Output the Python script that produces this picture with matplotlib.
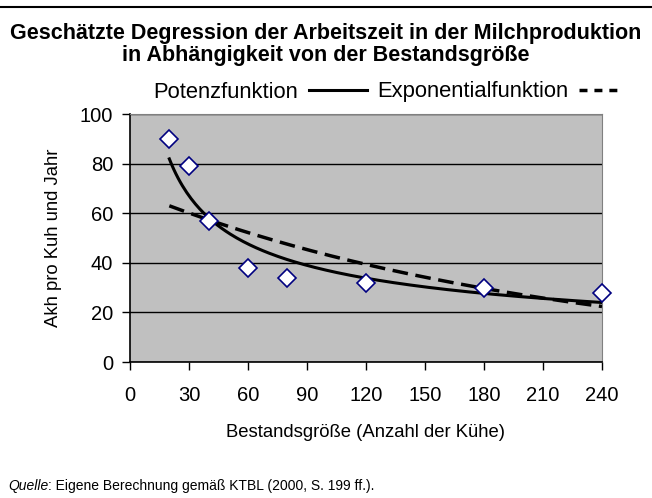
import matplotlib
matplotlib.use("Agg")
import matplotlib.pyplot as plt
from matplotlib.lines import Line2D
from matplotlib.legend_handler import HandlerLine2D
import numpy as np

"""
Degression der Arbeitszeit in der Milchproduktion: Messpunkte plus
Potenz- und Exponential-Trendlinie (Kleinste Quadrate wie in Excel).
"""

plt.rcParams["font.family"] = ["Liberation Sans", "DejaVu Sans"]

# Datenpunkte (KTBL)
herdSize = [20, 30, 40, 60, 80, 120, 180, 240]  # Anzahl Kuehe
akhPerCow = [90, 79, 57, 38, 34, 32, 30, 28]    # Akh pro Kuh und Jahr

xTicks = [0, 30, 60, 90, 120, 150, 180, 210, 240]
yTicks = [0, 20, 40, 60, 80, 100]

# Trendlinien wie in Excel: Potenz -> log/log, Exponential -> log(y) ueber x
x = np.array(herdSize, dtype=float)
y = np.array(akhPerCow, dtype=float)
bPow, lnAPow = np.polyfit(np.log(x), np.log(y), 1)
bExp, lnAExp = np.polyfit(x, np.log(y), 1)
xFit = np.linspace(x.min(), x.max(), 200)
yPow = np.exp(lnAPow) * xFit ** bPow
yExp = np.exp(lnAExp) * np.exp(bExp * xFit)


class ShortHandler(HandlerLine2D):
    # kuerzeres Linienmuster fuer den zweiten Legendeneintrag
    def create_artists(self, legend, orig_handle, xdescent, ydescent, width, height, fontsize, trans):
        return super().create_artists(legend, orig_handle, xdescent, ydescent,
                                      width * 0.66, height, fontsize, trans)


fig = plt.figure(figsize=(6.52, 4.98), dpi=100)
ax = fig.add_axes([130/652, 1 - 362/498, 472/652, 248/498])

ax.set_facecolor("#c0c0c0")
ax.set_xlim(0, 240)
ax.set_ylim(0, 100)
ax.set_xticks(xTicks)
ax.set_yticks(yTicks)
ax.tick_params(axis="both", labelsize=14.5, length=6, width=1, direction="out")
ax.tick_params(axis="x", pad=11)
ax.tick_params(axis="y", pad=6)
ax.yaxis.grid(True, color="black", lw=1)
ax.set_axisbelow(True)
for side in ["top", "right"]:
    ax.spines[side].set_color("#808080")
for side in ["left", "bottom"]:
    ax.spines[side].set_color("black")
    ax.spines[side].set_linewidth(1.2)

ax.plot(xFit, yPow, color="black", lw=2.2, zorder=3)
ax.plot(xFit, yExp, color="black", lw=2.5, dashes=(4.5, 2.2), zorder=3)
ax.plot(herdSize, akhPerCow, linestyle="none", marker="D", markersize=9,
        markerfacecolor="white", markeredgecolor="#000080", markeredgewidth=1.2,
        zorder=4, clip_on=False)

ax.set_xlabel("Bestandsgröße (Anzahl der Kühe)", fontsize=13.3, labelpad=14)
ax.set_ylabel("Akh pro Kuh und Jahr", fontsize=13.3, labelpad=13)

# Legende: Text zuerst, dann Linienmuster
hPow = Line2D([], [], color="black", lw=2.2)
hExp = Line2D([], [], color="black", lw=2.5, dashes=(2.3, 2.0))
fig.legend([hPow, hExp], ["Potenzfunktion", "Exponentialfunktion"], loc="center",
           bbox_to_anchor=(395/652, 1 - 92/498), ncol=2, frameon=False,
           markerfirst=False, fontsize=15.8, handlelength=2.64,
           handletextpad=0.5, columnspacing=0.45,
           handler_map={hExp: ShortHandler()})

fig.text(0.5, 1 - 34/498, "Geschätzte Degression der Arbeitszeit in der Milchproduktion",
         ha="center", va="center", fontsize=15.5, fontweight="bold")
fig.text(0.5, 1 - 56/498, "in Abhängigkeit von der Bestandsgröße",
         ha="center", va="center", fontsize=15.5, fontweight="bold")

# Linie oben ueber die ganze Breite
fig.add_artist(Line2D([0, 1], [1 - 7/498, 1 - 7/498], color="black", lw=1.5))

# Quellenangabe, "Quelle" kursiv
qt = fig.text(8/652, 1 - 486/498, "Quelle", fontsize=10, va="center", style="italic")
fig.canvas.draw()
bb = qt.get_window_extent(renderer=fig.canvas.get_renderer())
fig.text(bb.x1 / fig.bbox.width, 1 - 486/498, ": Eigene Berechnung gemäß KTBL (2000, S. 199 ff.).",
         fontsize=10, va="center")

fig.savefig("out.png", dpi=100)
